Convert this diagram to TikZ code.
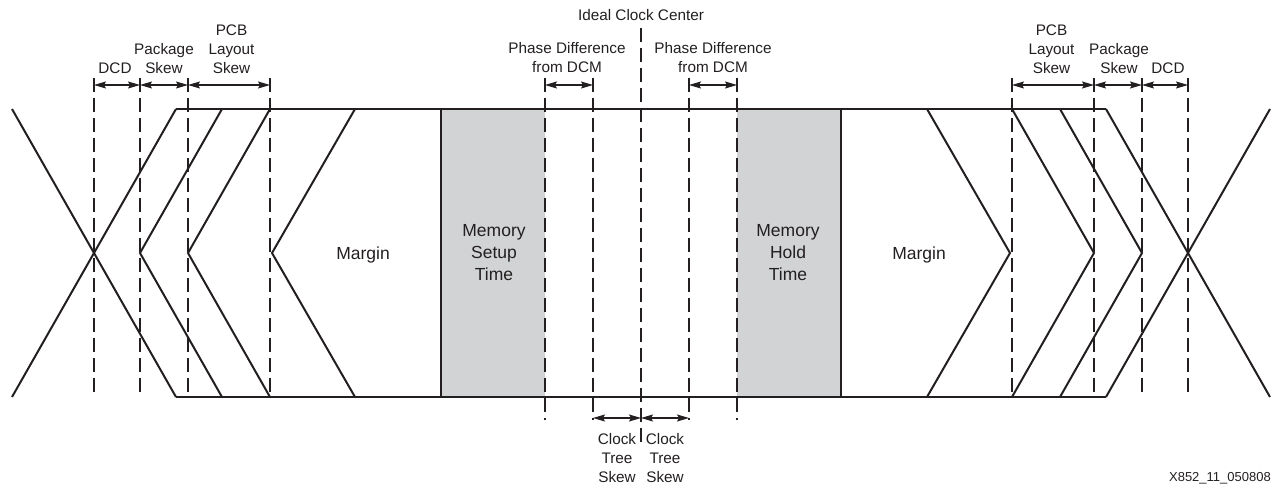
\documentclass[tikz,border=0pt]{standalone}
\usepackage{fontspec}
\setmainfont{Liberation Sans}
\usetikzlibrary{arrows.meta}
\definecolor{ink}{RGB}{35,31,32}
\definecolor{memgray}{RGB}{209,211,212}
\begin{document}
\begin{tikzpicture}[x=1pt,y=-1pt,
  sig/.style={line width=2pt, line join=miter, draw=ink},
  guide/.style={line width=1.1pt, draw=ink, dash pattern=on 14pt off 6pt},
  dimarrow/.style={line width=1.1pt, draw=ink,
    {Stealth[length=12pt,width=7pt,inset=2pt]}-{Stealth[length=12pt,width=7pt,inset=2pt]}},
  small/.style={font=\fontsize{15.3}{19}\selectfont, align=center, text=ink, inner sep=0pt, anchor=north},
  big/.style={font=\fontsize{17.5}{22}\selectfont, align=center, text=ink, inner sep=0pt, anchor=north},
]
\useasboundingbox (0,0) rectangle (1272,486);

% shaded memory windows
\fill[memgray] (441,109) rectangle (545,397);
\fill[memgray] (737,109) rectangle (841,397);

% guide coordinates (dashed verticals)
\foreach \n/\x/\t/\b in {g1/94/78/397, g2/140/78/397, g3/188/78/397, g4/270/78/397,
    g5/545/78/420, g6/593/78/420, g7/641/28/444, g8/689/78/420, g9/737/78/420,
    g10/1012/78/397, g11/1094/78/397, g12/1142/78/397, g13/1188/78/397}{
  \coordinate (\n t) at (\x,\t);
  \coordinate (\n b) at (\x,\b);
  \draw[guide] (\n t) -- (\n b);
}

% dimension arrow end points
\foreach \n/\x in {1/94, 2/140, 3/188, 4/270, 5/545, 6/593, 8/689, 9/737, 10/1012, 11/1094, 12/1142, 13/1188}{
  \coordinate (a\n) at (\x,85);
}
\foreach \n/\x in {6/593, 7/641, 8/689}{
  \coordinate (c\n) at (\x,418);
}
\draw[dimarrow] (a1) -- (a2);
\draw[dimarrow] (a2) -- (a3);
\draw[dimarrow] (a3) -- (a4);
\draw[dimarrow] (a5) -- (a6);
\draw[dimarrow] (a8) -- (a9);
\draw[dimarrow] (a10) -- (a11);
\draw[dimarrow] (a11) -- (a12);
\draw[dimarrow] (a12) -- (a13);
\draw[dimarrow] (c6) -- (c7);
\draw[dimarrow] (c7) -- (c8);

% signal outline
\draw[sig] (12,109) -- (176,397);
\draw[sig] (12,397) -- (176,109);
\draw[sig] (176,109) -- (1106,109);
\draw[sig] (176,397) -- (1106,397);
\draw[sig] (222,109) -- (140,253) -- (222,397);
\draw[sig] (270,109) -- (188,253) -- (270,397);
\draw[sig] (355,109) -- (272,253) -- (355,397);
\draw[sig] (441,109) -- (441,397);
\draw[sig] (841,109) -- (841,397);
\draw[sig] (927,109) -- (1010,253) -- (927,397);
\draw[sig] (1012,109) -- (1094,253) -- (1012,397);
\draw[sig] (1060,109) -- (1142,253) -- (1060,397);
\draw[sig] (1106,109) -- (1270,397);
\draw[sig] (1106,397) -- (1270,109);

% labels
\node[small] (dcdL) at (115,62.5) {DCD};
\node[small] (pkgL) at (164,43.5) {Package\\Skew};
\node[small] (pcbL) at (231.5,24.5) {PCB\\Layout\\Skew};
\node[small] (pcbR) at (1051.5,24.5) {PCB\\Layout\\Skew};
\node[small] (pkgR) at (1119,43.5) {Package\\Skew};
\node[small] (dcdR) at (1168,62.5) {DCD};
\node[small] (ideal) at (641,9.5) {Ideal Clock Center};
\node[small] (phL) at (567,42.5) {Phase Difference\\from DCM};
\node[small] (phR) at (713,42.5) {Phase Difference\\from DCM};
\node[small] (ctsL) at (617,433.5) {Clock\\Tree\\Skew};
\node[small] (ctsR) at (665,433.5) {Clock\\Tree\\Skew};
\node[big] (marL) at (363,246.5) {Margin};
\node[big] (marR) at (919,246.5) {Margin};
\node[big] (setup) at (494,224) {Memory\\Setup\\Time};
\node[big] (hold) at (788,224) {Memory\\Hold\\Time};
\node[font=\fontsize{13}{15}\selectfont, text=ink, inner sep=0pt, anchor=north east] (fig) at (1271,472) {X852\_11\_050808};
\end{tikzpicture}
\end{document}
